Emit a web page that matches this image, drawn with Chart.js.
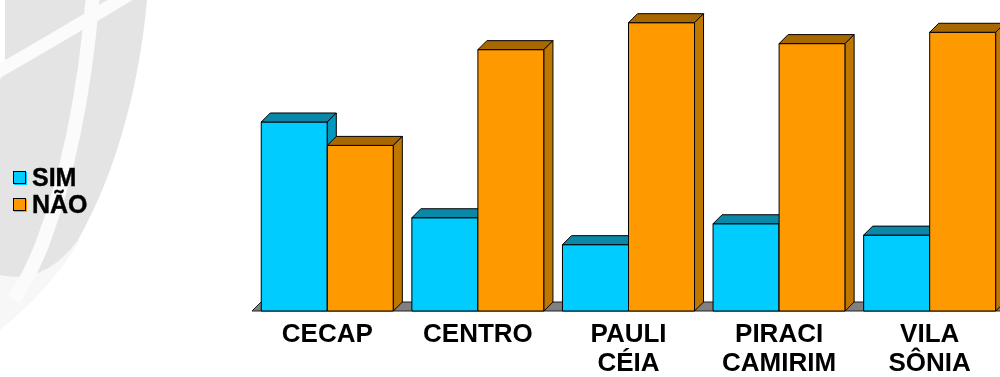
<!DOCTYPE html>
<html>
<head>
<meta charset="utf-8">
<script src="https://cdn.jsdelivr.net/npm/chart.js@4"></script>
<style>
  html, body { margin: 0; padding: 0; overflow: hidden; background: #fff; }
  #wrap { position: relative; width: 1005px; height: 377px; }
  #legend { position: absolute; left: 13px; top: 164px; font: bold 25px "Liberation Sans", Arial, sans-serif; color: #000; -webkit-text-stroke: 0.4px #000; }
  #legend div { height: 27px; line-height: 27px; display: flex; align-items: center; }
  #legend span.box { width: 11px; height: 11px; border: 1px solid #000; box-shadow: 1px 1px 0 0 var(--c); background: var(--c); margin-right: 6px; }
</style>
</head>
<body>
<div id="wrap">
  <canvas id="chart" width="1005" height="377"></canvas>
  <div id="legend"></div>
</div>
<script>
const categories = ['CECAP', 'CENTRO', ['PAULI', 'CÉIA'], ['PIRACI', 'CAMIRIM'], ['VILA', 'SÔNIA']];
const seriesNames = ['SIM', 'NÃO'];
const simValues = [53.3, 26.3, 18.7, 24.6, 21.4];
const naoValues = [46.7, 73.7, 81.3, 75.4, 78.6];

// cores das faces: frente, topo, lado
const faces = [
  { front: '#00CCFF', top: '#0B88A8', side: '#0098BE' },
  { front: '#FF9900', top: '#A86800', side: '#C07700' }
];
const depth = 9;

function face(ctx, pts, fill) {
  ctx.beginPath();
  ctx.moveTo(pts[0][0], pts[0][1]);
  for (let k = 1; k < pts.length; k++) ctx.lineTo(pts[k][0], pts[k][1]);
  ctx.closePath();
  ctx.fillStyle = fill;
  ctx.fill();
  ctx.stroke();
}

// marca d'agua (globo) no fundo
const watermark = {
  id: 'watermark',
  beforeDraw(chart) {
    const ctx = chart.ctx;
    ctx.save();
    ctx.fillStyle = '#f7f7f7';
    ctx.beginPath();
    ctx.moveTo(0, 240);
    ctx.lineTo(80, 240);
    ctx.quadraticCurveTo(50, 290, 0, 330);
    ctx.closePath();
    ctx.fill();
    ctx.fillStyle = '#e4e4e4';
    ctx.beginPath();
    ctx.moveTo(5, 0);
    ctx.lineTo(147, 0);
    ctx.bezierCurveTo(140, 80, 118, 170, 78, 240);
    ctx.quadraticCurveTo(45, 285, 0, 275);
    ctx.lineTo(0, 80);
    ctx.lineTo(5, 60);
    ctx.closePath();
    ctx.fill();
    ctx.strokeStyle = '#fbfbfb';
    ctx.lineWidth = 13;
    ctx.beginPath();
    ctx.moveTo(-6, 74);
    ctx.quadraticCurveTo(60, 36, 130, -6);
    ctx.stroke();
    ctx.lineWidth = 14;
    ctx.beginPath();
    ctx.moveTo(93, -6);
    ctx.bezierCurveTo(86, 80, 70, 170, 42, 245);
    ctx.quadraticCurveTo(30, 275, 14, 300);
    ctx.stroke();
    ctx.restore();
  }
};

// barras em 3D desenhadas a partir dos elementos do Chart.js
const bars3d = {
  id: 'bars3d',
  beforeDatasetsDraw(chart) {
    const ctx = chart.ctx;
    const area = chart.chartArea;
    const base = chart.scales.y.getPixelForValue(0);
    ctx.save();
    ctx.lineWidth = 1;
    ctx.strokeStyle = '#222';
    face(ctx, [[area.left, base], [area.left + depth, base - depth], [area.right + depth, base - depth], [area.right, base]], '#808080');
    ctx.strokeStyle = '#000';
    const metas = chart.getSortedVisibleDatasetMetas();
    categories.forEach((c, i) => {
      metas.forEach(meta => {
        const p = meta.data[i].getProps(['x', 'y', 'base', 'width'], true);
        const l = p.x - p.width / 2, r = p.x + p.width / 2;
        const col = faces[meta.index];
        face(ctx, [[l, p.y], [r, p.y], [r, p.base], [l, p.base]], col.front);
        face(ctx, [[l, p.y], [l + depth, p.y - depth], [r + depth, p.y - depth], [r, p.y]], col.top);
        face(ctx, [[r, p.y], [r + depth, p.y - depth], [r + depth, p.base - depth], [r, p.base]], col.side);
      });
    });
    ctx.restore();
    return false;
  }
};

const legend = document.getElementById('legend');
seriesNames.forEach((name, k) => {
  const row = document.createElement('div');
  row.innerHTML = '<span class="box" style="--c:' + faces[k].front + '"></span>' + name;
  legend.appendChild(row);
});

new Chart(document.getElementById('chart'), {
  type: 'bar',
  data: {
    labels: categories,
    datasets: [
      { label: seriesNames[0], data: simValues, backgroundColor: faces[0].front },
      { label: seriesNames[1], data: naoValues, backgroundColor: faces[1].front }
    ]
  },
  options: {
    responsive: false,
    animation: false,
    layout: { padding: { left: 252, right: 0, top: 0, bottom: 0 } },
    datasets: { bar: { categoryPercentage: 0.877, barPercentage: 1 } },
    plugins: { legend: { display: false }, tooltip: { enabled: false } },
    scales: {
      x: {
        grid: { display: false },
        border: { display: false },
        ticks: {
          color: '#000',
          padding: 1,
          maxRotation: 0,
          autoSkip: false,
          font: { family: '"Liberation Sans", Arial, sans-serif', size: 26, weight: 'bold', lineHeight: 1.12 }
        },
        afterFit: (s) => { s.height = 66; }
      },
      y: { display: false, min: 0, max: 87.7 }
    }
  },
  plugins: [watermark, bars3d]
});
</script>
</body>
</html>
